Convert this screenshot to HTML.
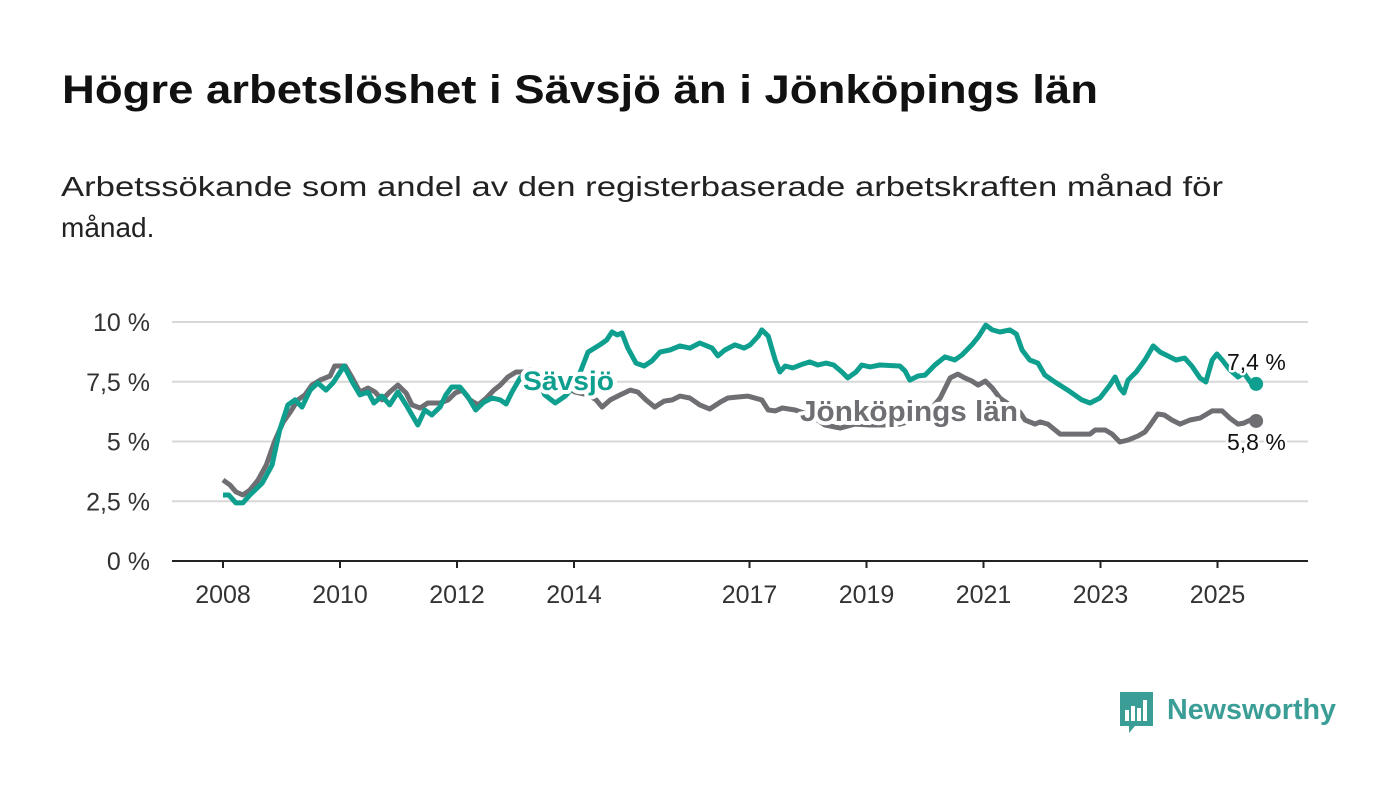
<!DOCTYPE html>
<html><head><meta charset="utf-8">
<style>
html,body{margin:0;padding:0;background:#fff;width:1400px;height:794px;overflow:hidden}
text{font-family:"Liberation Sans",sans-serif}
</style></head>
<body>
<svg id="chart" width="1400" height="794" viewBox="0 0 1400 794" xmlns="http://www.w3.org/2000/svg">
<text x="62" y="103" font-size="40" font-weight="bold" fill="#111" textLength="1036" lengthAdjust="spacingAndGlyphs">Högre arbetslöshet i Sävsjö än i Jönköpings län</text>
<text x="61" y="196" font-size="28" fill="#222" textLength="1162" lengthAdjust="spacingAndGlyphs">Arbetssökande som andel av den registerbaserade arbetskraften månad för</text>
<text x="61" y="237" font-size="28" fill="#222">månad.</text>
<g id="grid"></g>
<g id="xaxis"></g>
<g id="lines"></g>
<g id="labels"></g>
<g>
  <path d="M1120 692 h33 v34 h-18 l-6 7 v-7 h-9 z" fill="#3a9e96"/>
  <rect x="1125" y="710" width="4" height="11" fill="#fff"/>
  <rect x="1131" y="706" width="4" height="15" fill="#fff"/>
  <rect x="1137" y="708" width="4" height="13" fill="#fff"/>
  <rect x="1143" y="700" width="4" height="21" fill="#fff"/>
  <text x="1167" y="719" font-size="29" font-weight="bold" fill="#3a9e96" textLength="169" lengthAdjust="spacingAndGlyphs">Newsworthy</text>
</g>
</svg>
<script>
const yTicks = [0, 2.5, 5, 7.5, 10];
const yTickLabels = ["0 %", "2,5 %", "5 %", "7,5 %", "10 %"];
const xTicks = [2008, 2010, 2012, 2014, 2017, 2019, 2021, 2023, 2025];
const savDates = [2008.00,2008.10,2008.22,2008.34,2008.46,2008.67,2008.84,2008.97,2009.11,2009.23,2009.35,2009.49,2009.62,2009.76,2009.88,2010.07,2010.21,2010.34,2010.48,2010.58,2010.72,2010.85,2010.99,2011.13,2011.23,2011.33,2011.45,2011.57,2011.71,2011.81,2011.91,2012.05,2012.19,2012.32,2012.46,2012.60,2012.74,2012.84,2012.94,2013.08,2013.25,2013.42,2013.50,2013.68,2013.85,2014.02,2014.24,2014.44,2014.56,2014.65,2014.74,2014.82,2014.92,2015.06,2015.20,2015.33,2015.47,2015.64,2015.81,2015.98,2016.15,2016.36,2016.46,2016.58,2016.75,2016.91,2017.01,2017.15,2017.21,2017.32,2017.44,2017.52,2017.61,2017.74,2017.91,2018.03,2018.17,2018.31,2018.44,2018.58,2018.68,2018.82,2018.92,2019.06,2019.23,2019.57,2019.66,2019.74,2019.88,2020.00,2020.17,2020.34,2020.51,2020.63,2020.80,2020.91,2021.04,2021.15,2021.28,2021.45,2021.56,2021.66,2021.79,2021.93,2022.05,2022.22,2022.44,2022.68,2022.82,2022.99,2023.16,2023.25,2023.33,2023.40,2023.47,2023.61,2023.76,2023.90,2024.02,2024.15,2024.29,2024.44,2024.56,2024.70,2024.80,2024.91,2024.99,2025.08,2025.21,2025.35,2025.45,2025.56,2025.66];
const savValues = [2.76,2.76,2.43,2.43,2.76,3.26,4.02,5.48,6.53,6.74,6.44,7.15,7.45,7.15,7.45,8.16,7.49,6.95,7.07,6.61,6.90,6.53,7.07,6.53,6.11,5.69,6.32,6.11,6.44,6.95,7.28,7.28,6.86,6.32,6.65,6.82,6.74,6.57,7.07,7.66,8.00,7.36,6.95,6.61,6.90,7.36,8.74,9.04,9.25,9.58,9.46,9.54,8.91,8.28,8.16,8.37,8.74,8.83,9.00,8.91,9.12,8.91,8.58,8.83,9.04,8.91,9.04,9.41,9.67,9.41,8.41,7.91,8.16,8.08,8.24,8.33,8.20,8.28,8.20,7.91,7.66,7.91,8.20,8.12,8.20,8.16,7.95,7.57,7.74,7.78,8.20,8.54,8.41,8.62,9.04,9.37,9.87,9.67,9.58,9.67,9.50,8.83,8.41,8.28,7.78,7.49,7.15,6.74,6.61,6.82,7.36,7.70,7.24,7.03,7.57,7.91,8.41,9.00,8.74,8.58,8.41,8.49,8.16,7.66,7.49,8.41,8.66,8.41,8.00,7.70,7.87,7.49,7.41];
const jkpDates = [2008.00,2008.12,2008.22,2008.34,2008.46,2008.60,2008.74,2008.89,2009.03,2009.15,2009.28,2009.40,2009.52,2009.66,2009.83,2009.91,2010.09,2010.21,2010.34,2010.48,2010.60,2010.72,2010.85,2010.99,2011.13,2011.23,2011.37,2011.50,2011.71,2011.85,2011.97,2012.09,2012.22,2012.36,2012.50,2012.63,2012.74,2012.87,2013.01,2013.25,2013.50,2013.76,2014.02,2014.24,2014.38,2014.48,2014.62,2014.79,2014.96,2015.09,2015.23,2015.38,2015.54,2015.68,2015.81,2015.98,2016.15,2016.32,2016.50,2016.63,2016.80,2016.97,2017.21,2017.32,2017.44,2017.56,2017.78,2018.03,2018.29,2018.55,2018.80,2019.06,2019.32,2019.57,2019.83,2020.09,2020.26,2020.43,2020.56,2020.68,2020.80,2020.91,2021.03,2021.15,2021.28,2021.45,2021.62,2021.71,2021.88,2021.97,2022.10,2022.31,2022.56,2022.82,2022.91,2023.08,2023.20,2023.33,2023.47,2023.64,2023.76,2023.85,2023.98,2024.09,2024.22,2024.36,2024.53,2024.70,2024.91,2025.08,2025.21,2025.35,2025.45,2025.56,2025.66];
const jkpValues = [3.39,3.18,2.89,2.76,2.97,3.39,4.02,5.06,5.82,6.23,6.74,6.95,7.36,7.57,7.74,8.16,8.16,7.66,7.07,7.24,7.07,6.74,7.07,7.36,7.03,6.53,6.40,6.61,6.61,6.74,7.03,7.15,6.74,6.53,6.82,7.15,7.36,7.70,7.91,7.91,7.66,7.36,7.07,6.95,6.74,6.44,6.74,6.95,7.15,7.07,6.74,6.44,6.69,6.74,6.90,6.82,6.53,6.36,6.65,6.82,6.86,6.90,6.74,6.32,6.28,6.40,6.32,6.11,5.69,5.56,5.73,5.69,5.69,5.73,5.90,6.32,6.82,7.66,7.82,7.66,7.53,7.36,7.53,7.24,6.82,6.53,6.23,5.90,5.73,5.82,5.73,5.31,5.31,5.31,5.48,5.48,5.31,4.98,5.06,5.23,5.40,5.69,6.15,6.11,5.90,5.73,5.90,5.98,6.28,6.28,5.98,5.73,5.77,5.90,5.86];
const savLast = "7,4 %", jkpLast = "5,8 %";

const NS = "http://www.w3.org/2000/svg";
const X0 = 172, X1 = 1308;
const xs = d => 223 + (d - 2008) * 58.5;
const ys = v => 561 - v * 23.9;
function mk(tag, attrs, parent, txt){
  const e = document.createElementNS(NS, tag);
  for (const k in attrs) e.setAttribute(k, attrs[k]);
  if (txt !== undefined) e.textContent = txt;
  parent.appendChild(e); return e;
}
const grid = document.getElementById('grid');
yTicks.forEach((t,i)=>{
  const l = mk('line',{x1:X0,x2:X1,y1:ys(t),y2:ys(t),stroke:i===0?'#222':'#d8d8d8','stroke-width':2},grid);
  
  
  const tx = mk('text',{x:150,y:ys(t)+9,'font-size':25,fill:'#333','text-anchor':'end'},grid,yTickLabels[i]);
  
  
});
const xa = document.getElementById('xaxis');
xTicks.forEach(t=>{
  const l = mk('line',{x1:xs(t),x2:xs(t),y1:561,y2:568,stroke:'#222','stroke-width':2},xa);
  
  
  const tx = mk('text',{x:xs(t),y:603,'font-size':25,fill:'#333','text-anchor':'middle'},xa,String(t));
  
  
});
const lines = document.getElementById('lines');
function path(d, v){ return d.map((x,i)=>(i?'L':'M')+xs(x).toFixed(1)+' '+ys(v[i]).toFixed(1)).join(' '); }
const pj = mk('path',{d:path(jkpDates,jkpValues),fill:'none',stroke:'#6f6e73','stroke-width':5,'stroke-linejoin':'round'},lines);


const ps = mk('path',{d:path(savDates,savValues),fill:'none',stroke:'#0e9f8f','stroke-width':5,'stroke-linejoin':'round'},lines);


const lb = document.getElementById('labels');
const halo = {stroke:'#fff','stroke-width':8,'paint-order':'stroke','stroke-linejoin':'round'};
const l1 = mk('text',Object.assign({x:523,y:390,'font-size':27,'font-weight':'bold',fill:'#0e9f8f',textLength:91,lengthAdjust:'spacingAndGlyphs'},halo),lb,'Sävsjö');


const l2 = mk('text',Object.assign({x:800,y:421,'font-size':29,'font-weight':'bold',fill:'#6f6e73',textLength:218,lengthAdjust:'spacingAndGlyphs'},halo),lb,'Jönköpings län');


const n = savDates.length-1, m = jkpDates.length-1;
const d1 = mk('circle',{cx:xs(savDates[n]),cy:ys(savValues[n]),r:7,fill:'#0e9f8f'},lb);


const d2 = mk('circle',{cx:xs(jkpDates[m]),cy:ys(jkpValues[m]),r:7,fill:'#6f6e73'},lb);


const v1 = mk('text',Object.assign({x:1227,y:ys(savValues[n])-14,'font-size':23,fill:'#111'},halo,{'stroke-width':5}),lb,savLast);


const v2 = mk('text',Object.assign({x:1227,y:ys(jkpValues[m])+29,'font-size':23,fill:'#111'},halo,{'stroke-width':5}),lb,jkpLast);


</script>
</body></html>
